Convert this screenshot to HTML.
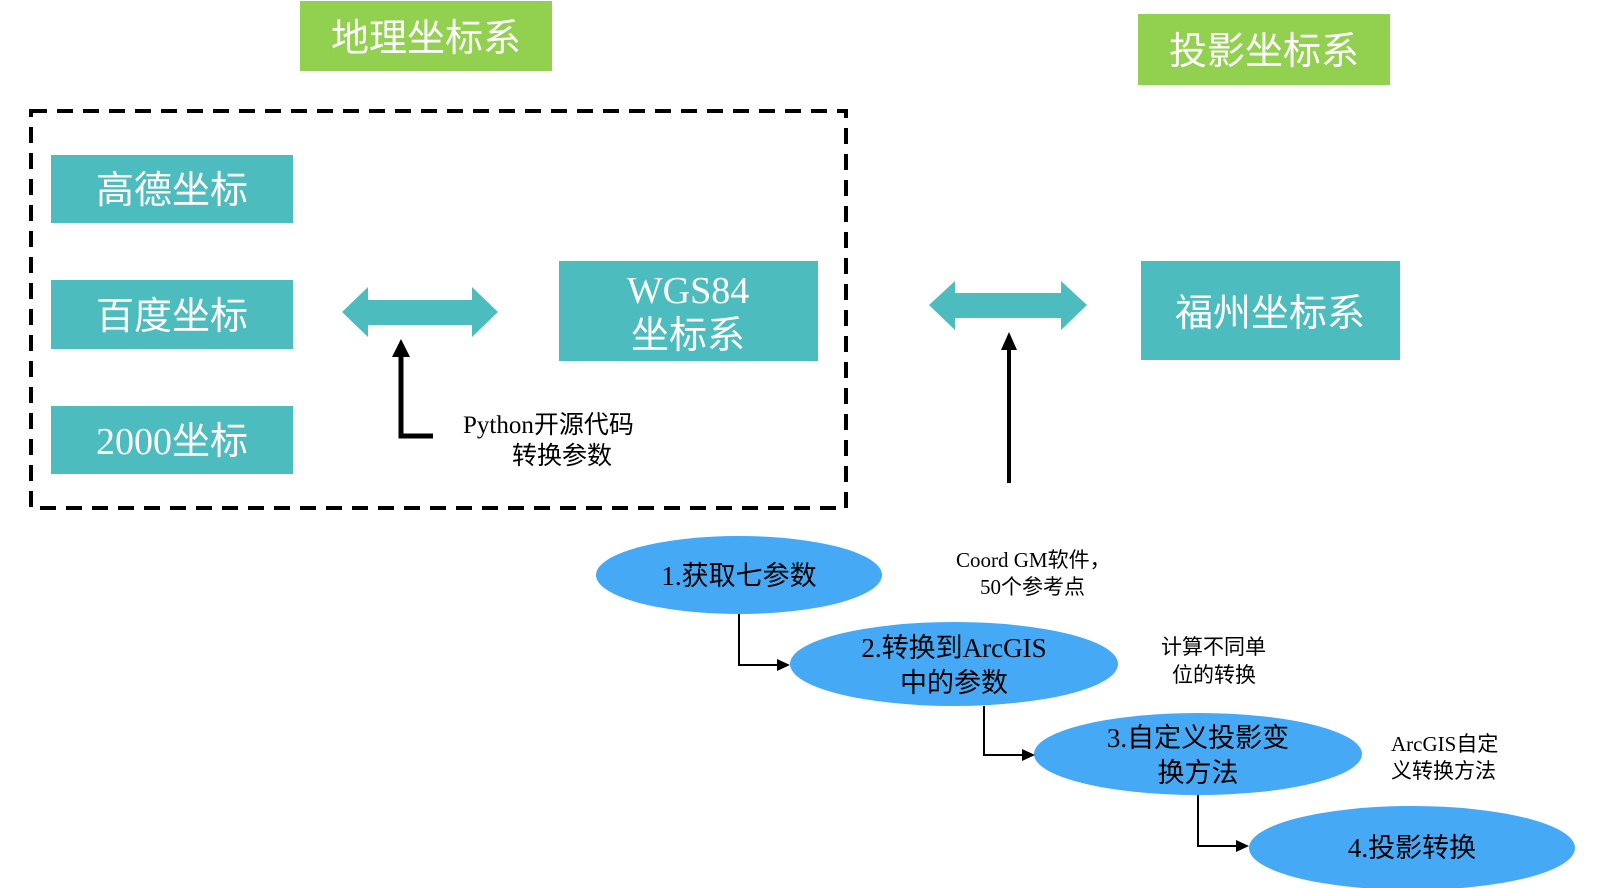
<!DOCTYPE html>
<html><head><meta charset="utf-8"><style>
html,body{margin:0;padding:0;background:#fff;}
svg{display:block;}
.w{font-family:"Liberation Sans","Noto Sans CJK SC",sans-serif;fill:#fff;font-size:38px;}
.ws{font-family:"Liberation Serif","Noto Sans CJK SC",serif;fill:#fff;font-size:38px;}
.b{font-family:"Liberation Serif","Noto Sans CJK SC",serif;fill:#000;}
</style></head><body>
<svg width="1601" height="888" viewBox="0 0 1601 888" xmlns="http://www.w3.org/2000/svg">
<rect x="300" y="1" width="252" height="70" fill="#92d050"/>
<text x="426" y="51" text-anchor="middle" class="w">地理坐标系</text>
<rect x="1138" y="14" width="252" height="71" fill="#92d050"/>
<text x="1264" y="64" text-anchor="middle" class="w">投影坐标系</text>

<rect x="31" y="111" width="815" height="397" fill="none" stroke="#000" stroke-width="4" stroke-dasharray="16,10"/>

<rect x="51" y="155" width="242" height="68" fill="#4dbcbe"/>
<text x="172" y="203" text-anchor="middle" class="w">高德坐标</text>
<rect x="51" y="280" width="242" height="69" fill="#4dbcbe"/>
<text x="172" y="329" text-anchor="middle" class="w">百度坐标</text>
<rect x="51" y="406" width="242" height="68" fill="#4dbcbe"/>
<text x="172" y="454" text-anchor="middle" class="ws">2000坐标</text>

<rect x="559" y="261" width="259" height="100" fill="#4dbcbe"/>
<text x="688" y="303" text-anchor="middle" class="ws">WGS84</text>
<text x="688" y="348" text-anchor="middle" class="w">坐标系</text>

<rect x="1141" y="261" width="259" height="99" fill="#4dbcbe"/>
<text x="1270" y="326" text-anchor="middle" class="w">福州坐标系</text>

<polygon points="342,312 368,287 368,300 472,300 472,287 498,312 472,337 472,325 368,325 368,337" fill="#4dbcbe"/>
<polygon points="929,305 955,281 955,293 1061,293 1061,281 1087,305 1061,330 1061,318 955,318 955,330" fill="#4dbcbe"/>

<polyline points="401,355 401,436 433,436" fill="none" stroke="#000" stroke-width="5"/>
<polygon points="401,339 392,357 410,357" fill="#000"/>
<line x1="1009" y1="348" x2="1009" y2="483" stroke="#000" stroke-width="4"/>
<polygon points="1009,332 1001,350 1017,350" fill="#000"/>

<text x="463" y="433" class="b" font-size="25">Python开源代码</text>
<text x="562" y="464" text-anchor="middle" class="b" font-size="25">转换参数</text>

<ellipse cx="739" cy="575" rx="143" ry="39" fill="#45a9f5"/>
<ellipse cx="954" cy="664" rx="164" ry="42" fill="#45a9f5"/>
<ellipse cx="1198" cy="754" rx="164" ry="41" fill="#45a9f5"/>
<ellipse cx="1412" cy="848" rx="163" ry="42" fill="#45a9f5"/>

<polyline points="739,614 739,665 778,665" fill="none" stroke="#000" stroke-width="2"/>
<polygon points="790,665 777,659 777,671" fill="#000"/>
<polyline points="984,706 984,755 1023,755" fill="none" stroke="#000" stroke-width="2"/>
<polygon points="1035,755 1022,749 1022,761" fill="#000"/>
<polyline points="1198,795 1198,846 1237,846" fill="none" stroke="#000" stroke-width="2"/>
<polygon points="1249,846 1236,840 1236,852" fill="#000"/>

<text x="739" y="585" text-anchor="middle" class="b" font-size="27">1.获取七参数</text>
<text x="954" y="657" text-anchor="middle" class="b" font-size="27">2.转换到ArcGIS</text>
<text x="954" y="692" text-anchor="middle" class="b" font-size="27">中的参数</text>
<text x="1198" y="747" text-anchor="middle" class="b" font-size="27">3.自定义投影变</text>
<text x="1198" y="782" text-anchor="middle" class="b" font-size="27">换方法</text>
<text x="1412" y="857" text-anchor="middle" class="b" font-size="27">4.投影转换</text>

<text x="956" y="567" class="b" font-size="21">Coord GM软件，</text>
<text x="980" y="594" class="b" font-size="21">50个参考点</text>
<text x="1161" y="654" class="b" font-size="21">计算不同单</text>
<text x="1172" y="682" class="b" font-size="21">位的转换</text>
<text x="1391" y="751" class="b" font-size="21">ArcGIS自定</text>
<text x="1391" y="778" class="b" font-size="21">义转换方法</text>
</svg>
</body></html>
